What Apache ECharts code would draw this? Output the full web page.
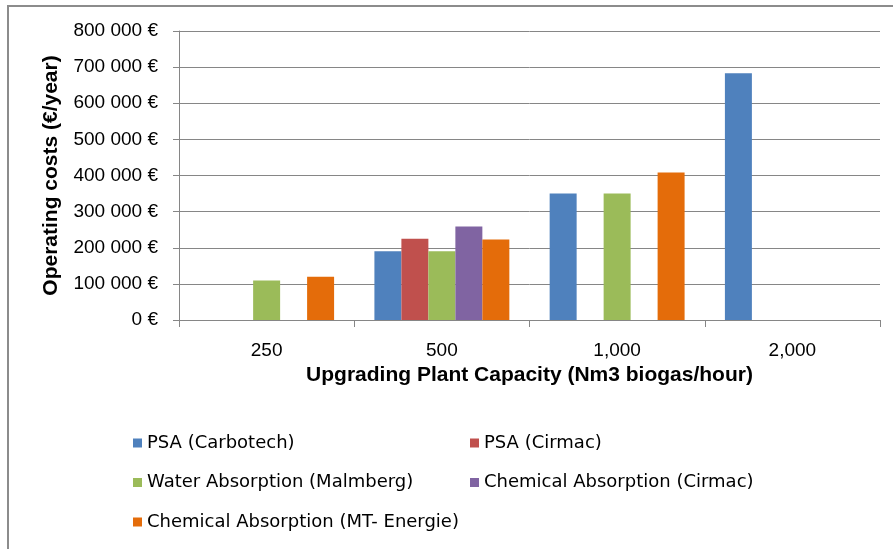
<!DOCTYPE html>
<html>
<head>
<meta charset="utf-8">
<script src="https://cdn.jsdelivr.net/npm/echarts@6/dist/echarts.min.js"></script>
<style>
  html, body { margin: 0; padding: 0; background: #fff; }
  #chart { width: 893px; height: 549px; }
</style>
</head>
<body>
<div id="chart"></div>
<script>
// Plant capacity categories (Nm3 biogas/hour)
const categories = ['250', '500', '1,000', '2,000'];

// Operating costs in €/year per upgrading technology
const psaCarbotech   = [null, 190000, 350000, 683000];
const psaCirmac      = [null, 225000, null, null];
const waterMalmberg  = [109000, 190000, 350000, null];
const chemCirmac     = [null, 259000, null, null];
const chemMtEnergie  = [120000, 223000, 408000, null];

const seriesNames = [
  'PSA (Carbotech)',
  'PSA (Cirmac)',
  'Water Absorption (Malmberg)',
  'Chemical Absorption (Cirmac)',
  'Chemical Absorption (MT- Energie)'
];
const seriesValues = [psaCarbotech, psaCirmac, waterMalmberg, chemCirmac, chemMtEnergie];
const seriesColors = ['#4F81BD', '#C0504D', '#9BBB59', '#8064A2', '#E46C0A'];

const FONT = '"Liberation Sans", Arial, sans-serif';
const LEGEND_FONT = '"DejaVu Sans", "Liberation Sans", sans-serif';
const GRID_GREY = '#868686';

function euro(v) {
  const s = String(Math.round(v)).replace(/\B(?=(\d{3})+(?!\d))/g, ' ');
  return s + ' €';
}

const chart = echarts.init(document.getElementById('chart'), null, { renderer: 'canvas' });

const legendText = { fontFamily: LEGEND_FONT, fontSize: 18, color: '#000' };

chart.setOption({
  animation: false,
  backgroundColor: '#fff',
  graphic: [{
    type: 'rect',
    shape: { x: 8, y: 6, width: 900, height: 600 },
    style: { fill: 'none', stroke: '#8c8c8c', lineWidth: 2 },
    silent: true
  }],
  grid: { left: 179, right: 13, top: 31, bottom: 229, containLabel: false },
  legend: [
    {
      orient: 'vertical', left: 133, top: 434, padding: 0,
      itemWidth: 9, itemHeight: 9, itemGap: 21.5, icon: 'rect',
      textStyle: legendText,
      data: [seriesNames[0], seriesNames[2], seriesNames[4]]
    },
    {
      orient: 'vertical', left: 470, top: 434, padding: 0,
      itemWidth: 9, itemHeight: 9, itemGap: 21.5, icon: 'rect',
      textStyle: legendText,
      data: [seriesNames[1], seriesNames[3]]
    }
  ],
  xAxis: {
    type: 'category',
    data: categories,
    name: 'Upgrading Plant Capacity (Nm3 biogas/hour)',
    nameLocation: 'middle',
    nameGap: 34,
    nameTextStyle: { fontFamily: FONT, fontSize: 21, fontWeight: 'bold', color: '#000' },
    axisLine: { show: true, lineStyle: { color: GRID_GREY, width: 1 } },
    axisTick: { show: true, length: 7, lineStyle: { color: GRID_GREY } },
    axisLabel: { fontFamily: FONT, fontSize: 19, color: '#000', margin: 21 }
  },
  yAxis: {
    type: 'value',
    min: 0, max: 800000, interval: 100000,
    name: 'Operating costs (€/year)',
    nameLocation: 'middle',
    nameGap: 117,
    nameTextStyle: { fontFamily: FONT, fontSize: 21, fontWeight: 'bold', color: '#000' },
    axisLine: { show: true, lineStyle: { color: GRID_GREY, width: 1 } },
    axisTick: { show: true, length: 6, lineStyle: { color: GRID_GREY } },
    splitLine: { show: true, lineStyle: { color: GRID_GREY, width: 1 } },
    axisLabel: { fontFamily: FONT, fontSize: 19, color: '#000', margin: 21, formatter: euro }
  },
  series: seriesNames.map((name, i) => ({
    name,
    type: 'bar',
    data: seriesValues[i],
    barGap: '0%',
    barCategoryGap: '23%',
    itemStyle: { color: seriesColors[i] }
  }))
});
</script>
</body>
</html>
